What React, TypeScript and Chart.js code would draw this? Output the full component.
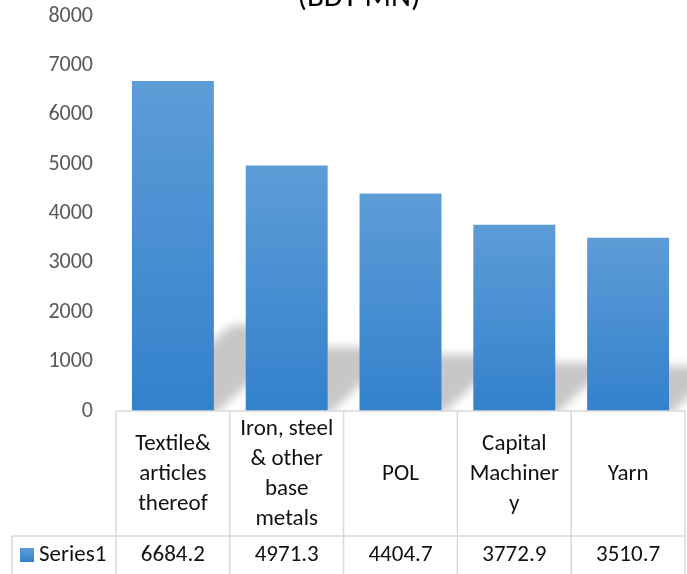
import React, { useEffect, useRef } from "react";
import { Chart, registerables } from "chart.js";

Chart.register(...registerables);

// ---- data ----
const categories = [
  "Textile& articles thereof",
  "Iron, steel & other base metals",
  "POL",
  "Capital Machinery",
  "Yarn",
];
const categoryLines = [
  ["Textile&", "articles", "thereof"],
  ["Iron, steel", "& other", "base", "metals"],
  ["POL"],
  ["Capital", "Machiner", "y"],
  ["Yarn"],
];
const seriesName = "Series1";
const values = [6684.2, 4971.3, 4404.7, 3772.9, 3510.7];
const valueLabels = ["6684.2", "4971.3", "4404.7", "3772.9", "3510.7"];
const titleText = "(BDT MN)";
const yMin = 0;
const yMax = 8000;
const yStep = 1000;

const FONT = "Carlito, Lato, 'Open Sans', sans-serif";
const TOP_COLOR = "#5d9cd7";
const BOTTOM_COLOR = "#3381cc";

function barGradient(ctx: CanvasRenderingContext2D, top: number, bottom: number) {
  const g = ctx.createLinearGradient(0, top, 0, bottom);
  g.addColorStop(0, TOP_COLOR);
  g.addColorStop(1, BOTTOM_COLOR);
  return g;
}

const shadowPlugin = {
  id: "floorShadow",
  beforeDatasetsDraw(chart: any) {
    const { ctx, chartArea } = chart;
    const meta = chart.getDatasetMeta(0);
    ctx.save();
    ctx.beginPath();
    ctx.rect(chartArea.left, 0, chart.width - chartArea.left, chartArea.bottom);
    ctx.clip();
    ctx.filter = "blur(5px)";
    ctx.fillStyle = "rgba(0,0,0,0.22)";
    ctx.beginPath();
    meta.data.forEach((el: any) => {
      const { x, y, base, width } = el.getProps(["x", "y", "base", "width"], true);
      const h = base - y;
      const sh = 0.26 * h;
      const dx = 1.15 * sh;
      const l = x - width / 2;
      const r = x + width / 2;
      ctx.moveTo(l, base + 4);
      ctx.lineTo(r, base + 4);
      ctx.lineTo(r + dx, base - sh);
      ctx.lineTo(l + dx, base - sh);
      ctx.closePath();
    });
    ctx.fill();
    ctx.restore();
  },
};

const tablePlugin = {
  id: "dataTable",
  afterDraw(chart: any) {
    const { ctx, chartArea } = chart;
    const xs = chart.scales.x;
    const top = chartArea.bottom;
    const rowSep = 536;
    const bottom = chart.height + 2;
    const legendLeft = 12;
    const n = categories.length;
    const centers = categories.map((_, i) => xs.getPixelForValue(i));
    const half = n > 1 ? (centers[1] - centers[0]) / 2 : 50;
    const bounds = [centers[0] - half, ...centers.map((c) => c + half)];

    ctx.save();
    ctx.strokeStyle = "#d9d9d9";
    ctx.lineWidth = 1.5;
    ctx.beginPath();
    ctx.moveTo(bounds[0], top);
    ctx.lineTo(bounds[n], top);
    ctx.moveTo(legendLeft, rowSep);
    ctx.lineTo(bounds[n], rowSep);
    bounds.forEach((b) => {
      ctx.moveTo(b, top);
      ctx.lineTo(b, bottom);
    });
    ctx.moveTo(legendLeft, rowSep);
    ctx.lineTo(legendLeft, bottom);
    ctx.stroke();

    ctx.fillStyle = "#111111";
    ctx.font = `23px ${FONT}`;
    ctx.textAlign = "center";
    ctx.textBaseline = "middle";
    const headerMid = (top + rowSep) / 2;
    const lh = 30;
    categoryLines.forEach((lines, i) => {
      const start = headerMid - ((lines.length - 1) * lh) / 2;
      lines.forEach((t, j) => ctx.fillText(t, centers[i], start + j * lh + 1));
    });
    const rowMid = 555;
    valueLabels.forEach((t, i) => ctx.fillText(t, centers[i], rowMid));

    // legend key
    ctx.fillStyle = barGradient(ctx, 548, 562);
    ctx.fillRect(20, 548, 14, 14);
    ctx.fillStyle = "#111111";
    ctx.textAlign = "left";
    ctx.fillText(seriesName, 39, rowMid);

    // title (mostly above the visible area)
    ctx.fillStyle = "#000000";
    ctx.font = `31px ${FONT}`;
    ctx.textAlign = "center";
    ctx.textBaseline = "alphabetic";
    ctx.fillText(titleText, 359, 6);
    ctx.restore();
  },
};

export default function App() {
  const ref = useRef<HTMLCanvasElement | null>(null);
  useEffect(() => {
    if (!ref.current) return;
    const chart = new Chart(ref.current, {
      type: "bar",
      data: {
        labels: categories,
        datasets: [
          {
            label: seriesName,
            data: values,
            backgroundColor: (c: any) => {
              const chart = c.chart;
              if (c.type !== "data" || !chart.chartArea) return BOTTOM_COLOR;
              const ys = chart.scales.y;
              return barGradient(chart.ctx, ys.getPixelForValue(c.raw), ys.getPixelForValue(0));
            },
            borderWidth: 0,
            barPercentage: 0.72,
            categoryPercentage: 1,
          },
        ],
      },
      options: {
        responsive: false,
        devicePixelRatio: 1,
        animation: false,
        events: [],
        layout: { padding: { top: 16, right: 2, bottom: 163, left: 0 } },
        plugins: {
          legend: { display: false },
          tooltip: { enabled: false },
          title: { display: false },
        },
        scales: {
          x: { display: false },
          y: {
            min: yMin,
            max: yMax,
            ticks: {
              stepSize: yStep,
              color: "#595959",
              font: { family: FONT, size: 22 },
              padding: 23,
              callback: (v: any) => String(v),
            },
            grid: { display: false, drawTicks: false },
            border: { display: false },
            afterFit: (s: any) => {
              s.width = 116;
              s.paddingTop = 0;
              s.paddingBottom = 0;
            },
          },
        },
      },
      plugins: [shadowPlugin, tablePlugin],
    });
    return () => chart.destroy();
  }, []);
  return (
    <div style={{ position: "fixed", left: 0, top: 0, width: 687, height: 574, background: "#fff" }}>
      <canvas ref={ref} width={687} height={574} style={{ display: "block" }} />
    </div>
  );
}
